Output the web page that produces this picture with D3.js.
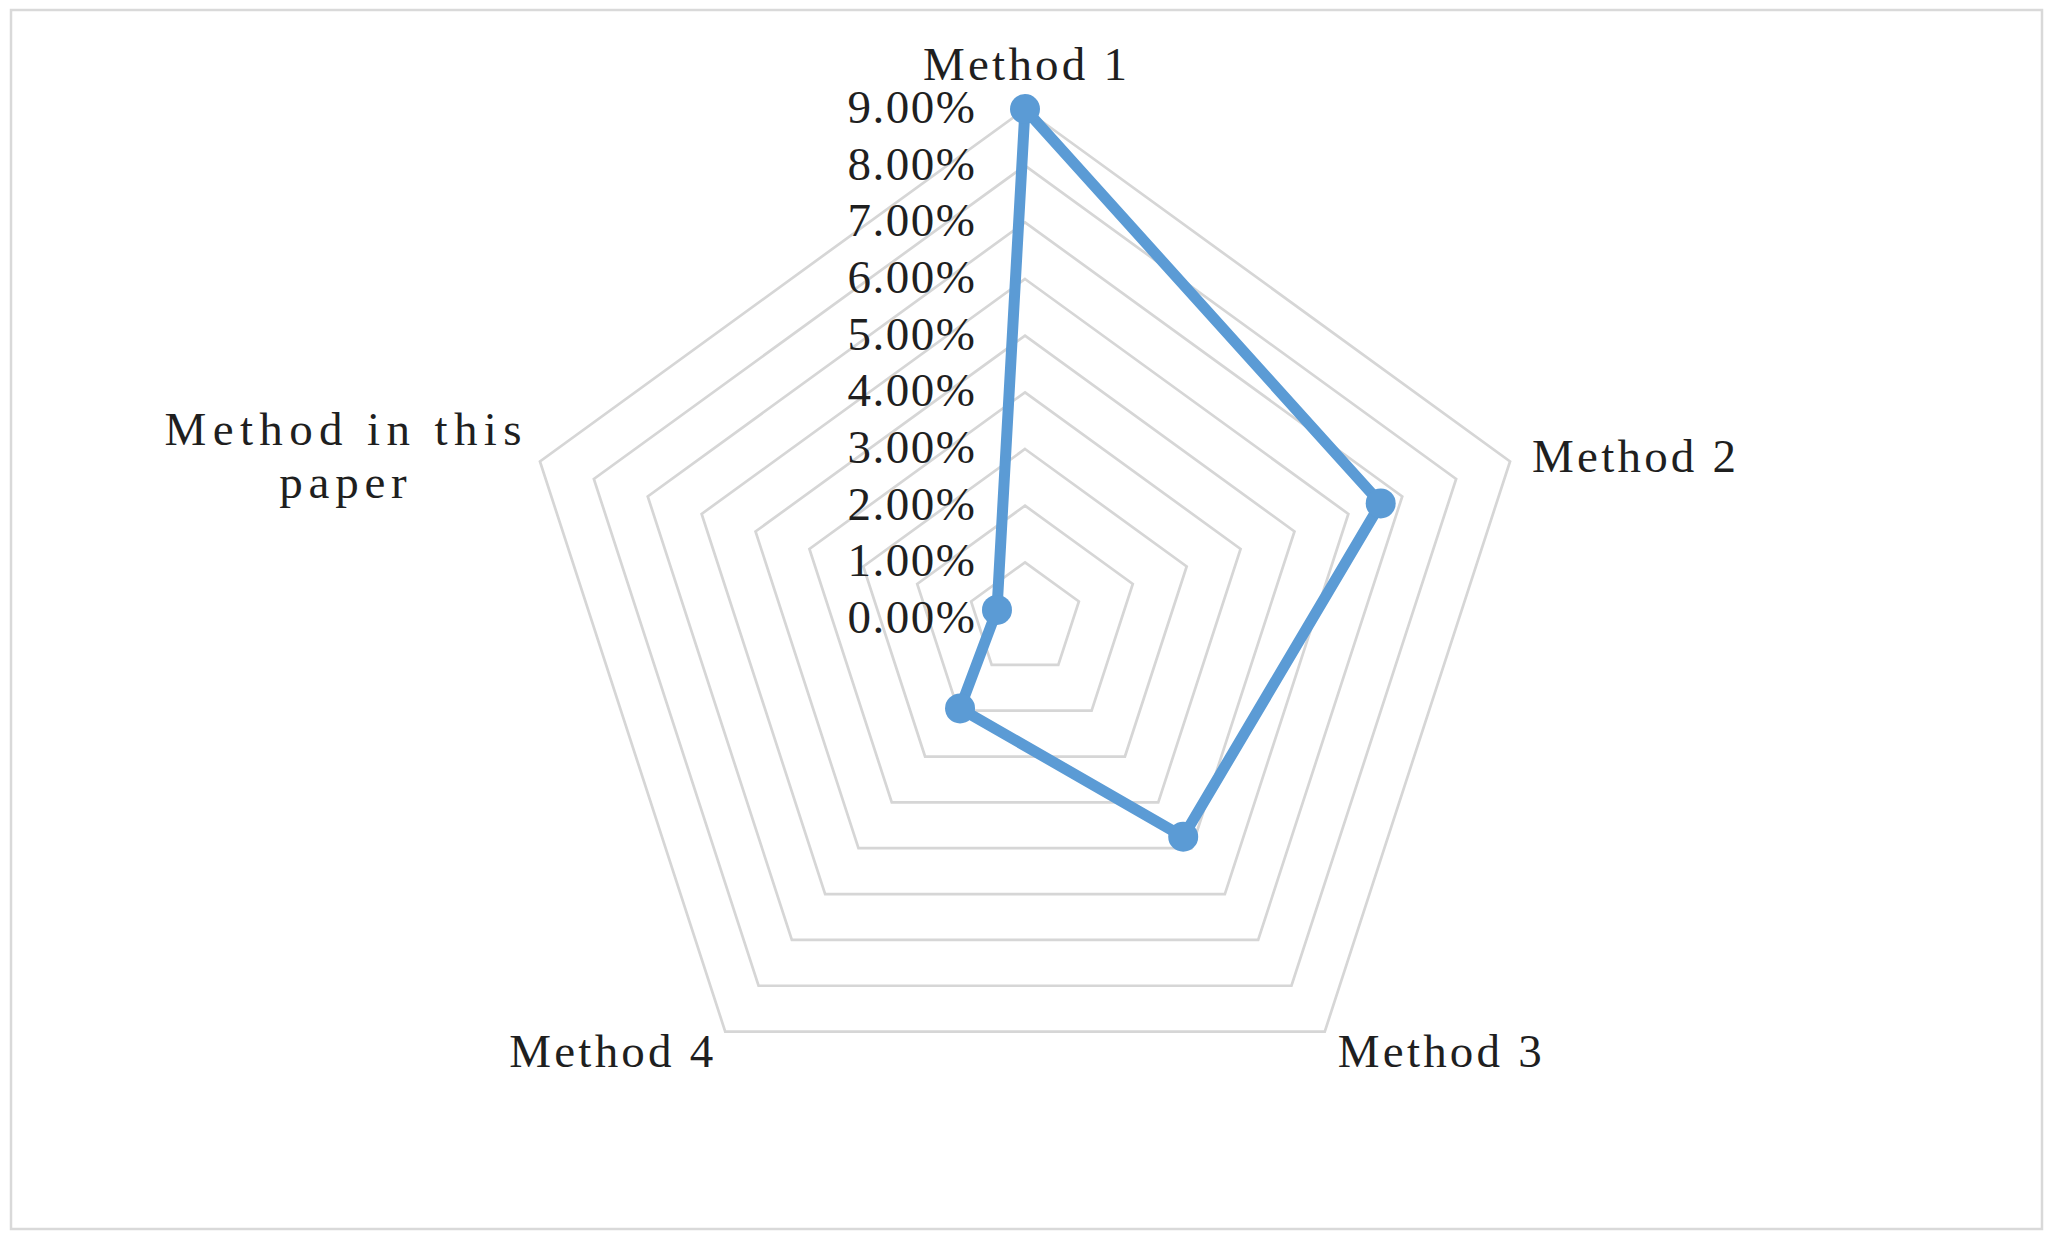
<!DOCTYPE html>
<html>
<head>
<meta charset="utf-8">
<script src="https://cdn.jsdelivr.net/npm/d3@7"></script>
<style>
  html, body { margin: 0; padding: 0; background: #fff; }
  svg { display: block; }
</style>
</head>
<body>
<svg id="chart" width="2058" height="1246"></svg>
<script>
// ---- data ----
const categories = ["Method 1", "Method 2", "Method 3", "Method 4", "Method in this paper"];
const values = [0.0900, 0.0660, 0.0475, 0.0195, 0.0052];
const tickValues = [0, 0.01, 0.02, 0.03, 0.04, 0.05, 0.06, 0.07, 0.08, 0.09];
const tickLabels = ["0.00%", "1.00%", "2.00%", "3.00%", "4.00%", "5.00%", "6.00%", "7.00%", "8.00%", "9.00%"];

// ---- layout ----
const W = 2058, H = 1246;
const cx = 1025, cy = 619, R = 510;
const charW = 25.5;           // monospace-like advance
const fontSize = 47;
const fontFamily = "'Liberation Serif', 'DejaVu Serif', serif";
const textColor = "#1f1f1f";
const gridColor = "#d6d6d6";
const lineColor = "#5b9bd5";

// label placement relative to each axis' outer vertex
const labelLayout = [
  { anchor: "middle", dx: 0,    dy: -29, lines: ["Method 1"] },
  { anchor: "start",  dx: 22,   dy: 11,  lines: ["Method 2"] },
  { anchor: "start",  dx: 13,   dy: 35,  lines: ["Method 3"] },
  { anchor: "end",    dx: -12,  dy: 35,  lines: ["Method 4"] },
  { anchor: "middle", dx: -197, dy: -16, lines: ["Method in this", "paper"] }
];
const lineGap = 53;

const svg = d3.select("#chart");

svg.append("rect")
  .attr("x", 11).attr("y", 10)
  .attr("width", 2031).attr("height", 1219)
  .attr("fill", "#fff")
  .attr("stroke", "#d9d9d9")
  .attr("stroke-width", 2.5);

const r = d3.scaleLinear().domain([0, 0.09]).range([0, R]);
const angle = d3.scalePoint().domain(categories).range([0, 2 * Math.PI * (categories.length - 1) / categories.length]);

const g = svg.append("g").attr("transform", `translate(${cx},${cy})`);

const pt = (cat, v) => {
  const a = angle(cat);
  return [r(v) * Math.sin(a), -r(v) * Math.cos(a)];
};

// grid pentagons
const gridLine = d3.line();
tickValues.filter(t => t > 0).forEach(t => {
  const pts = categories.map(c => pt(c, t));
  g.append("path")
    .attr("d", gridLine(pts) + "Z")
    .attr("fill", "none")
    .attr("stroke", gridColor)
    .attr("stroke-width", 2.7);
});

// tick labels
g.selectAll("text.tick")
  .data(tickValues)
  .join("text")
  .attr("class", "tick")
  .attr("x", -50)
  .attr("y", d => -r(d) + 14)
  .attr("text-anchor", "end")
  .attr("font-family", fontFamily)
  .attr("font-size", fontSize)
  .attr("fill", textColor)
  .attr("textLength", (d, i) => tickLabels[i].length * charW)
  .attr("lengthAdjust", "spacing")
  .text((d, i) => tickLabels[i]);

// series line
const seriesPts = categories.map((c, i) => pt(c, values[i]));
g.append("path")
  .attr("d", d3.line()(seriesPts) + "Z")
  .attr("fill", "none")
  .attr("stroke", lineColor)
  .attr("stroke-width", 11)
  .attr("stroke-linejoin", "round");

g.selectAll("circle.pt")
  .data(seriesPts)
  .join("circle")
  .attr("class", "pt")
  .attr("cx", d => d[0])
  .attr("cy", d => d[1])
  .attr("r", 15)
  .attr("fill", lineColor);

// category labels
categories.forEach((c, i) => {
  const [vx, vy] = pt(c, 0.09);
  const L = labelLayout[i];
  const t = g.append("text")
    .attr("font-family", fontFamily)
    .attr("font-size", fontSize)
    .attr("fill", textColor)
    .attr("text-anchor", L.anchor);
  L.lines.forEach((ln, k) => {
    t.append("tspan")
      .attr("x", vx + L.dx)
      .attr("y", vy + L.dy + k * lineGap)
      .attr("textLength", ln.length * charW)
      .attr("lengthAdjust", "spacing")
      .text(ln);
  });
});
</script>
</body>
</html>
